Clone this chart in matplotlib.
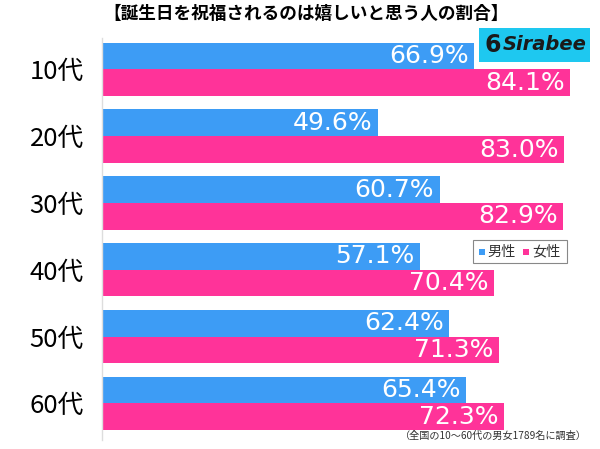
import matplotlib.pyplot as plt
import matplotlib.patches as patches
import numpy as np

plt.rcParams['font.family'] = ['Noto Sans CJK JP', 'DejaVu Sans']

ages = ['10代', '20代', '30代', '40代', '50代', '60代']
male = [66.9, 49.6, 60.7, 57.1, 62.4, 65.4]
female = [84.1, 83.0, 82.9, 70.4, 71.3, 72.3]

title = '【誕生日を祝福されるのは嬉しいと思う人の割合】'
note = '（全国の10～60代の男女1789名に調査）'

c_male = '#3d9cf5'
c_female = '#ff3399'

fig = plt.figure(figsize=(6, 4.49), dpi=100)
ax = fig.add_axes([0.17, 0.02, 0.83, 0.8954])

y = np.arange(len(ages))
h = 0.4
ax.barh(y - h/2, male, height=h, color=c_male)
ax.barh(y + h/2, female, height=h, color=c_female)

for i in range(len(ages)):
	ax.text(male[i] - 1.0, y[i] - h/2, '%.1f%%' % male[i], color='white',
		ha='right', va='center', fontsize=18, family='DejaVu Sans')
	ax.text(female[i] - 1.0, y[i] + h/2, '%.1f%%' % female[i], color='white',
		ha='right', va='center', fontsize=18, family='DejaVu Sans')

ax.set_xlim(0, 89.5)
ax.set_ylim(5.55, -0.47)
ax.set_yticks(y)
ax.set_yticklabels(ages, fontsize=18.5)
ax.tick_params(axis='y', length=0, pad=13)
ax.set_xticks([])
for s in ['top', 'right', 'bottom']:
	ax.spines[s].set_visible(False)
ax.spines['left'].set_color('#dddddd')
ax.spines['left'].set_linewidth(1)

fig.text(103/600, 1-14/449, title, fontsize=12.7, fontweight='bold', ha='left', va='center')
fig.text(587/600, 1-436/449, note, fontsize=7.3, ha='right', va='center', color='#333333')

# logo
fig.patches.append(patches.Rectangle((479/600, 1-62/449), 111/600, 34/449,
	transform=fig.transFigure, facecolor='#1ec8f0', edgecolor='none'))
fig.text(493/600, 1-45/449, '6', fontsize=17, fontweight='bold', ha='center', va='center',
	family='DejaVu Sans', color='#1a1a1a')
fig.text(503/600, 1-45/449, 'Sirabee', fontsize=14, fontweight='bold', style='italic',
	ha='left', va='center', family='DejaVu Sans', color='#1a1a1a')

# legend box
fig.patches.append(patches.Rectangle((473/600, 1-263/449), 94/600, 23/449,
	transform=fig.transFigure, facecolor='white', edgecolor='#888888', linewidth=0.8))
fig.patches.append(patches.Rectangle((479/600, 1-255/449), 6/600, 6/449,
	transform=fig.transFigure, facecolor=c_male, edgecolor='none'))
fig.text(487/600, 1-251.5/449, '男性', color='#333333', fontsize=10.2, ha='left', va='center')
fig.patches.append(patches.Rectangle((523/600, 1-255/449), 6/600, 6/449,
	transform=fig.transFigure, facecolor=c_female, edgecolor='none'))
fig.text(532/600, 1-251.5/449, '女性', color='#333333', fontsize=10.2, ha='left', va='center')

fig.savefig('out.png', dpi=100)
